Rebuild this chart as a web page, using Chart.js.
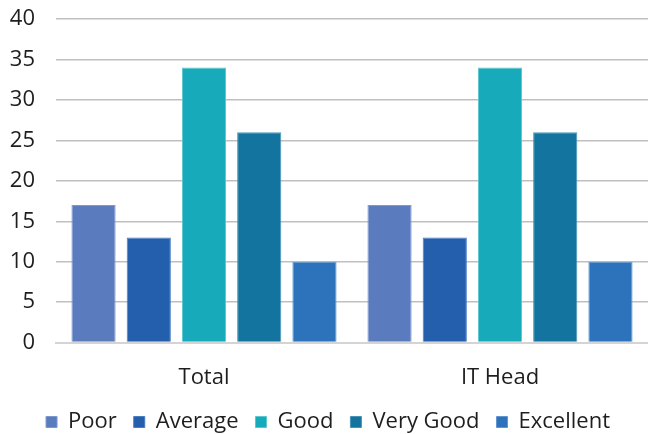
<!DOCTYPE html>
<html>
<head>
<meta charset="utf-8">
<script src="https://cdn.jsdelivr.net/npm/chart.js@4/dist/chart.umd.min.js"></script>
<style>
  html, body { margin: 0; padding: 0; background: #fff; }
  #wrap { width: 648px; height: 434px; }
</style>
</head>
<body>
<div id="wrap"><canvas id="chart"></canvas></div>
<script>
// ratings per group
const categories = ["Total", "IT Head"];
const seriesNames = ["Poor", "Average", "Good", "Very Good", "Excellent"];
const poor = [17, 17];
const average = [13, 13];
const good = [34, 34];
const veryGood = [26, 26];
const excellent = [10, 10];
const yTicks = [0, 5, 10, 15, 20, 25, 30, 35, 40];

const colors = ["#5A7BBE", "#235FAD", "#17AABA", "#13759F", "#2C73BC"];
const edges = ["#7D98CF", "#4A7DC0", "#5CC6D1", "#4A93B5", "#5F96CF"];

const values = [poor, average, good, veryGood, excellent];
const datasets = seriesNames.map((name, i) => ({
    label: name,
    data: values[i],
    backgroundColor: colors[i],
    borderColor: edges[i],
    borderWidth: 1,
    categoryPercentage: 0.933,
    barPercentage: 0.8,
}));

const font = { family: "'Open Sans', 'Noto Sans', sans-serif", size: 22 };

new Chart(document.getElementById("chart").getContext("2d"), {
    type: "bar",
    data: { labels: categories, datasets },
    options: {
        responsive: true,
        maintainAspectRatio: false,
        animation: false,
        layout: { padding: { top: 19, left: 8, right: 0, bottom: -9 } },
        plugins: {
            legend: {
                position: "bottom",
                labels: {
                    color: "#1e1e1e",
                    font,
                    boxWidth: 11,
                    boxHeight: 11,
                    padding: 17,
                },
            },
            tooltip: { enabled: false },
        },
        scales: {
            x: {
                grid: { display: false },
                border: { color: "#d4d4d4", width: 2 },
                ticks: { color: "#1e1e1e", font, padding: 14 },
                afterFit: axis => { axis.height -= 11; },
            },
            y: {
                min: 0,
                max: 40,
                afterBuildTicks: axis => { axis.ticks = yTicks.map(v => ({ value: v })); },
                grid: { color: "#bfbfbf", lineWidth: 1.5, drawTicks: false },
                border: { display: false },
                ticks: { color: "#1e1e1e", font, padding: 21 },
                afterFit: axis => {
                    axis.width = 48;
                    axis.paddingTop = 0;
                    axis.paddingBottom = 0;
                },
            },
        },
    },
});
</script>
</body>
</html>
